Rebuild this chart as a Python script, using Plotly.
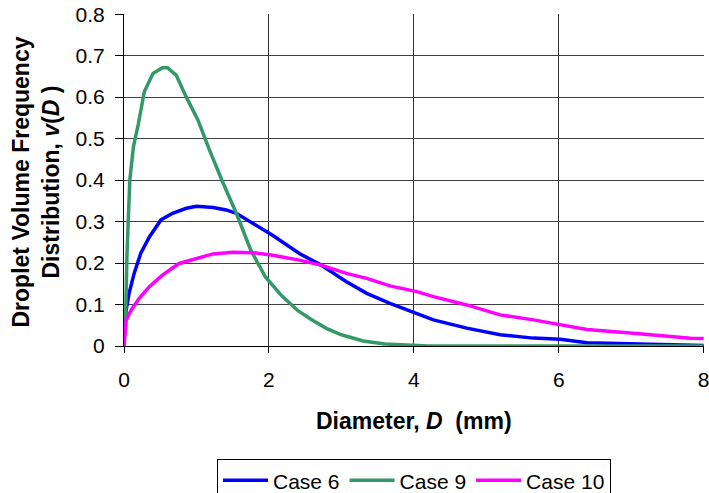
import plotly.graph_objects as go

# Diameter D (mm) and volume frequency v(D) for each case
case6_d = [0, 0.03, 0.07, 0.14, 0.23, 0.35, 0.51, 0.67, 0.86, 1.0, 1.23, 1.41, 1.55, 1.78,
           2.05, 2.42, 2.72, 3.07, 3.35, 3.67, 4.04, 4.27, 4.73, 5.19, 5.65, 6.02, 6.39,
           7.03, 7.5, 8.0]
case6_v = [0.03, 0.087, 0.127, 0.175, 0.223, 0.263, 0.304, 0.32, 0.332, 0.337, 0.334, 0.328,
           0.32, 0.296, 0.267, 0.223, 0.195, 0.155, 0.127, 0.103, 0.079, 0.063, 0.043,
           0.027, 0.019, 0.016, 0.008, 0.005, 0.003, 0.001]

case9_d = [0, 0.02, 0.04, 0.08, 0.13, 0.2, 0.28, 0.4, 0.53, 0.6, 0.72, 0.86, 1.02, 1.18,
           1.36, 1.55, 1.75, 1.95, 2.17, 2.4, 2.6, 2.8, 3.0, 3.3, 3.6, 3.9, 4.2, 5.0, 6.0,
           7.0, 8.0]
case9_v = [0.0, 0.05, 0.215, 0.40, 0.48, 0.537, 0.613, 0.657, 0.671, 0.671, 0.653, 0.60,
           0.545, 0.472, 0.396, 0.32, 0.231, 0.167, 0.122, 0.085, 0.062, 0.042, 0.027,
           0.012, 0.005, 0.002, 0.0, 0.0, 0.0, 0.0, 0.0]

case10_d = [0, 0.03, 0.1, 0.21, 0.35, 0.53, 0.76, 1.0, 1.23, 1.5, 1.78, 2.05, 2.42, 2.72,
            3.07, 3.35, 3.67, 4.04, 4.27, 4.73, 5.19, 5.65, 6.02, 6.39, 7.03, 7.82, 8.0]
case10_v = [0.0, 0.063, 0.087, 0.115, 0.143, 0.171, 0.199, 0.211, 0.222, 0.226, 0.225,
            0.219, 0.207, 0.195, 0.175, 0.163, 0.145, 0.131, 0.119, 0.099, 0.075, 0.063,
            0.051, 0.040, 0.031, 0.0185, 0.018]

series_names = ["Case 6", "Case 9", "Case 10"]
series_colors = ["#0000FF", "#339966", "#FF00FF"]

FONT = "Arial, Liberation Sans, sans-serif"

fig = go.Figure()
for name, color, xs, ys in zip(series_names, series_colors,
                               [case6_d, case9_d, case10_d],
                               [case6_v, case9_v, case10_v]):
    fig.add_trace(go.Scatter(x=xs, y=ys, mode="lines", name=name,
                             line=dict(color=color, width=3.5)))

fig.update_layout(
    width=709, height=493,
    margin=dict(l=124, r=5, t=14, b=147, autoexpand=False),
    paper_bgcolor="white", plot_bgcolor="white",
    font=dict(family=FONT, size=21, color="black"),
    showlegend=True,
    legend=dict(orientation="h", x=0.5, xanchor="center", y=-0.341, yanchor="top",
                bordercolor="black", borderwidth=1, bgcolor="white",
                font=dict(size=21), itemwidth=45, tracegroupgap=0),
    xaxis=dict(range=[0, 8.004], tickvals=[0, 2, 4, 6, 8], ticktext=["0", "2", "4", "6", "8"],
               showgrid=True, gridcolor="#303030",
               gridwidth=1, showline=True, linecolor="black", linewidth=1,
               ticks="outside", ticklen=6, tickcolor="black", ticklabelstandoff=9,
               ticklabeloverflow="allow", zeroline=False, tickfont=dict(size=21)),
    yaxis=dict(range=[0, 0.8004], dtick=0.1, tick0=0, showgrid=True, gridcolor="#404040",
               gridwidth=1, showline=True, linecolor="black", linewidth=1,
               ticks="outside", ticklen=8, tickcolor="black", ticklabelstandoff=6,
               ticklabeloverflow="allow", zeroline=False, tickfont=dict(size=21)),
    annotations=[
        dict(text="Diameter, <i>D</i>  (mm)", xref="paper", yref="paper",
             x=0.5, y=-0.226, xanchor="center", yanchor="middle", showarrow=False,
             font=dict(family=FONT, size=23, color="black", weight="bold")),
        dict(text="Droplet Volume Frequency<br>Distribution, <i>v</i>(<i>D</i> )",
             xref="paper", yref="paper", x=-0.152, y=0.495, xanchor="center",
             yanchor="middle", textangle=-90, showarrow=False,
             font=dict(family=FONT, size=23, color="black", weight="bold")),
    ],
)

fig.write_html("out.html")
